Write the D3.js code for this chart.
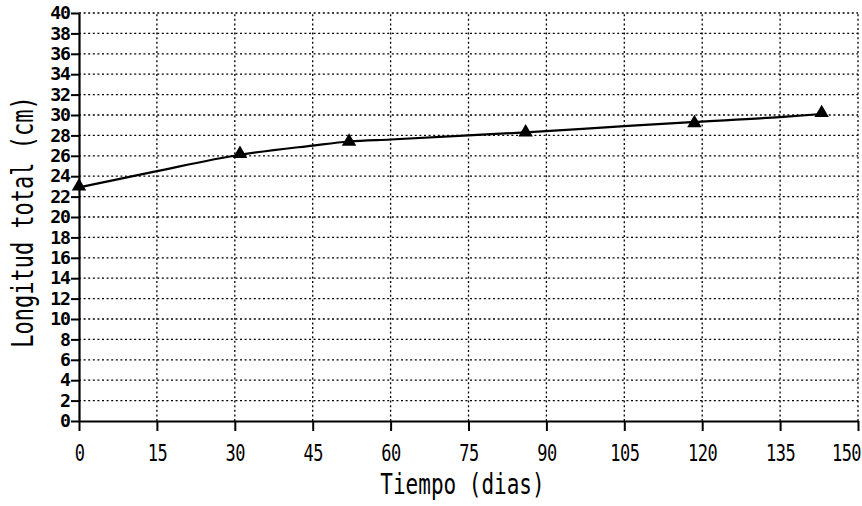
<!DOCTYPE html>
<html>
<head>
<meta charset="utf-8">
<script src="https://cdn.jsdelivr.net/npm/d3@7"></script>
<style>
  html, body { margin: 0; padding: 0; background: #fff; }
  svg { display: block; }
  text { font-family: "DejaVu Sans Mono", "Liberation Mono", monospace; fill: #000; }
</style>
</head>
<body>
<svg id="chart" width="862" height="506"></svg>
<script>
// Observed data (triangles)
const obsDays = [0, 31, 52, 86, 118.5, 143];
const obsLength = [23.0, 26.2, 27.4, 28.3, 29.2, 30.2];
// Fitted curve
const fitDays = [0, 15, 31, 45, 52, 60, 75, 86, 105, 118, 135, 143];
const fitLength = [22.9, 24.5, 26.1, 27.0, 27.4, 27.6, 28.0, 28.3, 28.9, 29.3, 29.8, 30.1];
// Ticks
const xTicks = [0, 15, 30, 45, 60, 75, 90, 105, 120, 135, 150];
const yTicks = [0, 2, 4, 6, 8, 10, 12, 14, 16, 18, 20, 22, 24, 26, 28, 30, 32, 34, 36, 38, 40];
const xTitle = "Tiempo (dias)";
const yTitle = "Longitud total (cm)";

const svg = d3.select("#chart");
const x = d3.scaleLinear().domain([0, 150]).range([79, 858]);
const y = d3.scaleLinear().domain([0, 40]).range([421, 13]);

// Grid
const grid = svg.append("g").attr("stroke", "#000").attr("stroke-width", 1.3)
  .attr("stroke-dasharray", "2,2.6").attr("fill", "none");
grid.selectAll("line.h").data(yTicks.filter(d => d > 0)).join("line")
  .attr("x1", x(0)).attr("x2", x(150)).attr("y1", d => y(d)).attr("y2", d => y(d));
grid.selectAll("line.v").data(xTicks.filter(d => d > 0)).join("line")
  .attr("x1", d => x(d)).attr("x2", d => x(d)).attr("y1", y(0)).attr("y2", y(40));

// Axes
const yAxis = d3.axisLeft(y).tickValues(yTicks).tickSize(8).tickPadding(4).tickSizeOuter(0);
const gy = svg.append("g").attr("transform", `translate(${x(0)},0)`).call(yAxis);
const xAxis = d3.axisBottom(x).tickValues(xTicks).tickSize(10).tickPadding(4).tickSizeOuter(0);
const gx = svg.append("g").attr("transform", `translate(0,${y(0)})`).call(xAxis);

[gx, gy].forEach(g => {
  g.select(".domain").attr("stroke", "#000").attr("stroke-width", 2.2);
  g.selectAll(".tick line").attr("stroke", "#000").attr("stroke-width", 2);
});

gy.selectAll(".tick text")
  .attr("x", 0).attr("y", 0).attr("dy", null)
  .attr("transform", "translate(-9,0) scale(1.3,1.2)")
  .attr("dominant-baseline", "central")
  .attr("font-size", 14).attr("font-weight", "bold")
  .attr("letter-spacing", "-0.8px")
  .attr("text-anchor", "end");

gx.selectAll(".tick text")
  .attr("x", 0).attr("y", 0).attr("dy", null)
  .attr("transform", d => `translate(${d === 150 ? -12 : 0},32) scale(1,1.4)`)
  .attr("dominant-baseline", "central")
  .attr("font-size", 17)
  .attr("letter-spacing", "-0.5px")
  .attr("text-anchor", "middle");

// Titles
svg.append("text")
  .attr("transform", `translate(${(x(0) + x(150)) / 2 - 6},484) scale(1,1.35)`)
  .attr("text-anchor", "middle").attr("dominant-baseline", "central")
  .attr("font-size", 21).text(xTitle);
svg.append("text")
  .attr("transform", `translate(23,${(y(0) + y(40)) / 2 + 5}) rotate(-90) scale(1,1.35)`)
  .attr("text-anchor", "middle").attr("dominant-baseline", "central")
  .attr("font-size", 22).text(yTitle);

// Fitted line
const fit = fitDays.map((d, i) => [d, fitLength[i]]);
svg.append("path").datum(fit)
  .attr("fill", "none").attr("stroke", "#000").attr("stroke-width", 2.2)
  .attr("d", d3.line().x(d => x(d[0])).y(d => y(d[1])).curve(d3.curveMonotoneX));

// Triangles
const obs = obsDays.map((d, i) => [d, obsLength[i]]);
svg.append("g").selectAll("path").data(obs).join("path")
  .attr("transform", d => `translate(${x(d[0])},${y(d[1])})`)
  .attr("d", d3.symbol(d3.symbolTriangle, 90)())
  .attr("fill", "#000");
</script>
</body>
</html>
